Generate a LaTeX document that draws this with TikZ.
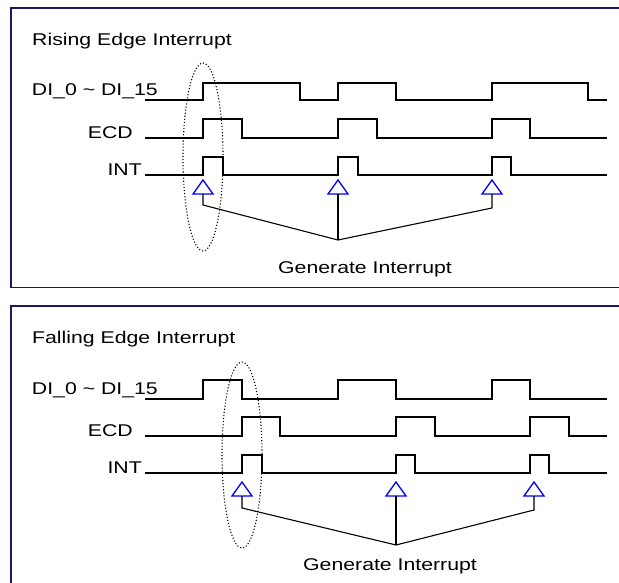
\documentclass[tikz,border=0pt]{standalone}
\usepackage{fontspec}
\setmainfont[FakeStretch=1.25]{Liberation Sans}
\definecolor{framecol}{RGB}{25,25,95}
\tikzset{
  box/.style={draw=framecol, line width=1.5pt},
  sig/.style={line width=1.1pt},
  lbl/.style={font=\fontsize{17}{17}\selectfont, inner sep=0pt},
  ring/.style={dotted, line width=1.1pt},
  trig/.pic={\draw[blue, line width=1.3pt] (0,0) -- (10,14) -- (-10,14) -- cycle;}
}
\begin{document}
\begin{tikzpicture}[x=1pt,y=-1pt]
	\pgfmathsetmacro{\xs}{145}
	\pgfmathsetmacro{\xe}{607}
	\useasboundingbox (0,0) rectangle (619,582);

	%Rising edge panel
	\draw[box] (619,8)--(11,8)--(11,287.5)--(619,287.5);
	\node[lbl, anchor=base west] (rtitle) at (32,45) {Rising Edge Interrupt};
	\node[lbl, anchor=base east] (rdi) at (158,95) {DI\_0 \textasciitilde{} DI\_15};
	\node[lbl, anchor=base east] (recd) at (133,138) {ECD};
	\node[lbl, anchor=base east] (rint) at (142,175) {INT};

	\draw[sig] (\xs,100)--(203,100)--(203,83)--(300,83)--(300,100)--(338,100)--(338,83)--(396,83)--(396,100)--(492,100)--(492,83)--(588,83)--(588,100)--(\xe,100);
	\draw[sig] (\xs,138)--(203,138)--(203,119)--(242,119)--(242,138)--(338,138)--(338,119)--(377,119)--(377,138)--(492,138)--(492,119)--(530,119)--(530,138)--(\xe,138);
	\draw[sig] (\xs,175)--(203,175)--(203,157)--(223,157)--(223,175)--(338,175)--(338,157)--(358,157)--(358,175)--(492,175)--(492,157)--(511,157)--(511,175)--(\xe,175);

	\draw[ring] (203,157) ellipse (20 and 94);

	\pic at (203,180) {trig};
	\pic at (338,180) {trig};
	\pic at (492,180) {trig};
	\coordinate (rj) at (338,240);
	\draw[sig] (203,194)--(203,205)--(rj);
	\draw[sig] (338,194)--(rj);
	\draw[sig] (492,194)--(492,208)--(rj);
	\node[lbl, anchor=base west] (rgen) at (278,273) {Generate Interrupt};

	%Falling edge panel
	\draw[box] (619,306)--(11,306)--(11,590);
	\node[lbl, anchor=base west] (ftitle) at (32,343) {Falling Edge Interrupt};
	\node[lbl, anchor=base east] (fdi) at (158,394) {DI\_0 \textasciitilde{} DI\_15};
	\node[lbl, anchor=base east] (fecd) at (133,436.5) {ECD};
	\node[lbl, anchor=base east] (fint) at (142,473) {INT};

	\draw[sig] (\xs,399)--(203,399)--(203,380)--(242,380)--(242,399)--(338,399)--(338,380)--(396,380)--(396,399)--(492,399)--(492,380)--(530,380)--(530,399)--(\xe,399);
	\draw[sig] (\xs,436)--(242,436)--(242,417)--(280,417)--(280,436)--(396,436)--(396,417)--(435,417)--(435,436)--(530,436)--(530,417)--(569,417)--(569,436)--(\xe,436);
	\draw[sig] (\xs,473)--(242,473)--(242,455)--(262,455)--(262,473)--(396,473)--(396,455)--(415,455)--(415,473)--(530,473)--(530,455)--(549,455)--(549,473)--(\xe,473);

	\draw[ring] (242,455) ellipse (20 and 93);

	\pic at (242,482) {trig};
	\pic at (396,482) {trig};
	\pic at (534,482) {trig};
	\coordinate (fj) at (396,545);
	\draw[sig] (242,496)--(242,508)--(fj);
	\draw[sig] (396,496)--(fj);
	\draw[sig] (534,496)--(534,510)--(fj);
	\node[lbl, anchor=base west] (fgen) at (303,570) {Generate Interrupt};
\end{tikzpicture}
\end{document}
